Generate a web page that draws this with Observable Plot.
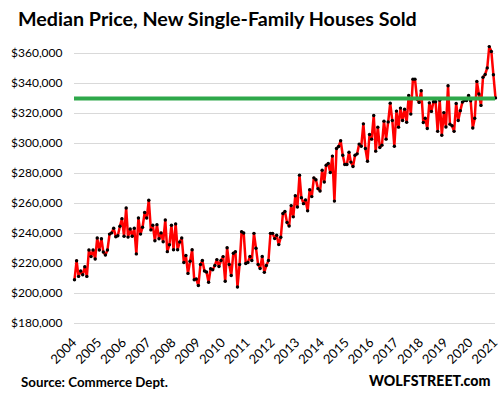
<!DOCTYPE html>
<html>
<head>
<meta charset="utf-8">
<script src="https://cdn.jsdelivr.net/npm/d3@7"></script>
<script src="https://cdn.jsdelivr.net/npm/@observablehq/plot@0.6"></script>
<style>
  body { margin: 0; background: #fff; }
  #wrap { position: relative; width: 504px; height: 398px; overflow: hidden; font-family: Lato, "Open Sans", sans-serif; color: #000; }
  #title { position: absolute; left: 18px; top: 7px; font-weight: bold; font-size: 19.7px; white-space: nowrap; }
  #chart { position: absolute; left: 0; top: 40px; }
  #source { position: absolute; left: 21px; top: 374px; font-weight: bold; font-size: 13.3px; white-space: nowrap; }
  #brand { position: absolute; left: 369px; top: 372px; font-weight: 900; font-size: 14.2px; white-space: nowrap; }
</style>
</head>
<body>
<div id="wrap">
  <div id="title">Median Price, New Single-Family Houses Sold</div>
  <div id="chart"></div>
  <div id="source">Source: Commerce Dept.</div>
  <div id="brand">WOLFSTREET.com</div>
</div>
<script>
// Monthly median price (thousands of $), starting January 2004
const startYear = 2004;
const medianPrice = [
  209.2, 221.8, 211.4, 215.0, 212.5, 217.8, 211.4, 229.0, 224.6, 229.0, 223.0, 237.0,
  229.0, 236.5, 227.7, 225.7, 229.0, 239.6, 240.4, 243.5, 237.8, 238.5, 244.8, 249.9,
  238.2, 257.0, 237.6, 243.0, 238.2, 243.5, 226.4, 250.3, 239.6, 244.2, 254.0, 250.3,
  262.2, 242.4, 245.5, 235.2, 245.9, 236.5, 240.4, 234.5, 249.0, 227.9, 232.5, 245.5,
  229.2, 246.4, 229.2, 234.3, 237.0, 220.7, 225.3, 213.4, 221.5, 229.2, 209.2, 209.7,
  205.3, 219.3, 222.0, 215.0, 214.3, 207.5, 216.5, 215.8, 218.7, 222.6, 218.0, 222.0,
  224.6, 208.2, 230.5, 219.3, 212.0, 226.8, 227.9, 204.3, 219.3, 241.2, 240.3, 220.0,
  220.7, 224.7, 222.0, 240.1, 230.2, 219.4, 216.7, 224.7, 214.1, 218.7, 222.0, 240.1,
  240.1, 236.6, 238.8, 232.6, 237.5, 253.3, 254.7, 247.4, 245.0, 258.6, 251.1, 265.2,
  257.7, 278.9, 263.9, 259.9, 262.4, 255.1, 269.2, 264.6, 277.1, 275.8, 269.9, 268.3,
  282.2, 274.3, 285.5, 286.7, 280.7, 291.6, 261.6, 296.7, 298.0, 301.8, 292.2, 286.0,
  286.0, 294.2, 287.6, 284.7, 292.2, 293.1, 299.6, 298.2, 313.1, 296.7, 288.2, 306.0,
  302.9, 318.7, 294.9, 310.9, 297.3, 298.9, 314.9, 302.9, 314.4, 326.9, 315.3, 298.2,
  321.6, 310.9, 323.6, 315.3, 322.9, 314.2, 332.0, 319.6, 342.9, 342.9, 329.6, 327.4,
  335.2, 314.0, 316.8, 310.0, 327.1, 321.4, 327.8, 327.8, 308.1, 328.9, 305.5, 320.6,
  311.0, 338.5, 312.9, 311.8, 308.1, 326.7, 315.3, 321.9, 327.6, 328.7, 328.7, 332.0,
  328.5, 310.3, 316.8, 341.4, 333.0, 325.4, 344.2, 346.0, 350.4, 364.6, 361.3, 345.8,
  330.4
];
const yearLabels = [2004, 2005, 2006, 2007, 2008, 2009, 2010, 2011, 2012, 2013, 2014, 2015, 2016, 2017, 2018, 2019, 2020, 2021];
const yTicks = [180000, 200000, 220000, 240000, 260000, 280000, 300000, 320000, 340000, 360000];
const referenceLevel = [330000];

const data = medianPrice.map((v, i) => ({ date: new Date(Date.UTC(startYear, i, 1)), price: v * 1000 }));
const yearDates = yearLabels.map(y => new Date(Date.UTC(y, 0, 1)));

const chart = Plot.plot({
  width: 504,
  height: 330,
  marginLeft: 74,
  marginRight: 9,
  marginTop: 13,
  marginBottom: 47,
  style: { fontFamily: "Lato, 'Open Sans', sans-serif", fontSize: "12px", color: "#000", background: "#fff", overflow: "visible" },
  x: {
    type: "utc",
    domain: [data[0].date, data[data.length - 1].date],
    ticks: yearDates,
    tickFormat: d => String(d.getUTCFullYear()),
    tickRotate: -45,
    tickSize: 0,
    tickPadding: 17,
    label: null
  },
  y: {
    domain: [180000, 360000],
    ticks: yTicks,
    tickFormat: d => "$" + d3.format(",")(d),
    tickSize: 0,
    tickPadding: 12,
    label: null
  },
  marks: [
    Plot.gridY(yTicks, { stroke: "#d9d9d9", strokeOpacity: 1, strokeWidth: 1 }),
    Plot.lineY(data, { x: "date", y: "price", stroke: "#ff0000", strokeWidth: 2.5 }),
    Plot.dot(data, { x: "date", y: "price", r: 1.7, fill: "#000" }),
    Plot.ruleY(referenceLevel, { stroke: "#2ea84a", strokeWidth: 4 }),
    Plot.axisX({
      ticks: yearDates,
      tickFormat: d => String(d.getUTCFullYear()),
      tickRotate: -45,
      tickSize: 0,
      tickPadding: 17,
      fontSize: 13,
      label: null
    })
  ]
});
document.getElementById("chart").appendChild(chart);
</script>
</body>
</html>
